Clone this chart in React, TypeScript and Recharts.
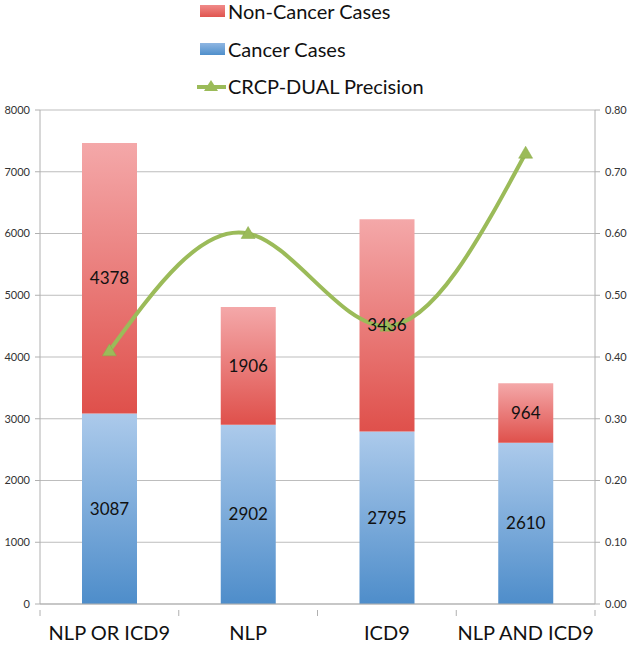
import React from "react";
import {
  ComposedChart,
  Bar,
  Line,
  XAxis,
  YAxis,
  CartesianGrid,
  LabelList,
} from "recharts";

const categories = ["NLP OR ICD9", "NLP", "ICD9", "NLP AND ICD9"];
const cancerCases = [3087, 2902, 2795, 2610];
const nonCancerCases = [4378, 1906, 3436, 964];
const precision = [0.41, 0.6, 0.45, 0.73];

const leftTicks = [0, 1000, 2000, 3000, 4000, 5000, 6000, 7000, 8000];
const rightTicks = [0, 0.1, 0.2, 0.3, 0.4, 0.5, 0.6, 0.7, 0.8];

const data = categories.map((name, i) => ({
  name,
  cancer: cancerCases[i],
  nonCancer: nonCancerCases[i],
  precision: precision[i],
}));

const FONT = "Lato, 'Open Sans', sans-serif";
const GREEN = "#9bbb59";
const CHART_W = 633;
const LEFT_W = 40;
const RIGHT_W = 38;
const BAND = (CHART_W - LEFT_W - RIGHT_W) / categories.length;

const Triangle = (props: any) => {
  const { cx, cy } = props;
  if (cx == null || cy == null) return null;
  return (
    <path
      d={`M${cx},${cy - 7} L${cx + 7},${cy + 5} L${cx - 7},${cy + 5} Z`}
      fill={GREEN}
      stroke="#8aaa4a"
      strokeWidth={0.5}
    />
  );
};

// category label plus the small boundary tick marks Excel draws
const CategoryTick = (props: any) => {
  const { x, y, payload, index } = props;
  const axisY = y - 16;
  return (
    <g>
      <line x1={x - BAND / 2} y1={axisY} x2={x - BAND / 2} y2={axisY + 6} stroke="#b0b0b0" />
      {index === categories.length - 1 && (
        <line x1={x + BAND / 2} y1={axisY} x2={x + BAND / 2} y2={axisY + 6} stroke="#b0b0b0" />
      )}
      <text
        x={x}
        y={y}
        dy="0.71em"
        textAnchor="middle"
        fontFamily={FONT}
        fontSize={20}
        fill="#111"
      >
        {payload.value}
      </text>
    </g>
  );
};

const LegendBox = () => {
  const rowStyle: React.CSSProperties = {
    position: "absolute",
    left: 197,
    display: "flex",
    alignItems: "center",
    fontFamily: FONT,
    fontSize: 20,
    color: "#111",
    whiteSpace: "nowrap",
  };
  return (
    <>
      <div style={{ ...rowStyle, top: -1 }}>
        <div
          style={{
            width: 25,
            height: 12,
            marginLeft: 3,
            marginRight: 3,
            background: "linear-gradient(#f08a89, #e0544f)",
          }}
        />
        <span>Non-Cancer Cases</span>
      </div>
      <div style={{ ...rowStyle, top: 37 }}>
        <div
          style={{
            width: 25,
            height: 12,
            marginLeft: 3,
            marginRight: 3,
            background: "linear-gradient(#8fb6e2, #4f8fcb)",
          }}
        />
        <span>Cancer Cases</span>
      </div>
      <div style={{ ...rowStyle, top: 74 }}>
        <svg width={31} height={16}>
          <line x1={0} y1={9} x2={29} y2={9} stroke={GREEN} strokeWidth={4} />
          <path d="M14,2 L21,13 L7,13 Z" fill={GREEN} />
        </svg>
        <span>CRCP-DUAL Precision</span>
      </div>
    </>
  );
};

export default function App() {
  return (
    <div style={{ position: "absolute", left: 0, top: 0, width: CHART_W, height: 645 }}>
      <LegendBox />
      <ComposedChart
        width={CHART_W}
        height={645}
        data={data}
        margin={{ top: 110, right: 0, bottom: 0, left: 0 }}
      >
        <defs>
          <linearGradient id="redGrad" x1="0" y1="0" x2="0" y2="1">
            <stop offset="0%" stopColor="#f4a8a9" />
            <stop offset="100%" stopColor="#df504b" />
          </linearGradient>
          <linearGradient id="blueGrad" x1="0" y1="0" x2="0" y2="1">
            <stop offset="0%" stopColor="#accaeb" />
            <stop offset="100%" stopColor="#4e8dca" />
          </linearGradient>
        </defs>
        <CartesianGrid vertical={false} stroke="#bdbdbd" yAxisId="left" />
        <XAxis
          dataKey="name"
          height={41}
          tickLine={false}
          axisLine={{ stroke: "#b0b0b0" }}
          tickMargin={16}
          interval={0}
          tick={<CategoryTick />}
        />
        <YAxis
          yAxisId="left"
          orientation="left"
          width={LEFT_W}
          domain={[0, 8000]}
          ticks={leftTicks}
          interval={0}
          tickSize={5}
          tickMargin={5}
          axisLine={{ stroke: "#b0b0b0" }}
          tickLine={{ stroke: "#b0b0b0" }}
          tick={{ fontFamily: FONT, fontSize: 11, fill: "#333" }}
        />
        <YAxis
          yAxisId="right"
          orientation="right"
          width={RIGHT_W}
          domain={[0, 0.8]}
          ticks={rightTicks}
          interval={0}
          tickSize={5}
          tickMargin={5}
          tickFormatter={(v: number) => v.toFixed(2)}
          axisLine={{ stroke: "#b0b0b0" }}
          tickLine={{ stroke: "#b0b0b0" }}
          tick={{ fontFamily: FONT, fontSize: 11, fill: "#333" }}
        />
        <Bar
          yAxisId="left"
          dataKey="cancer"
          stackId="a"
          barSize={55}
          fill="url(#blueGrad)"
          isAnimationActive={false}
        >
          <LabelList
            dataKey="cancer"
            position="center"
            style={{ fontFamily: FONT, fontSize: 17, fill: "#111" }}
          />
        </Bar>
        <Bar
          yAxisId="left"
          dataKey="nonCancer"
          stackId="a"
          barSize={55}
          fill="url(#redGrad)"
          isAnimationActive={false}
        >
          <LabelList
            dataKey="nonCancer"
            position="center"
            style={{ fontFamily: FONT, fontSize: 17, fill: "#111" }}
          />
        </Bar>
        <Line
          yAxisId="right"
          dataKey="precision"
          type="natural"
          stroke={GREEN}
          strokeWidth={4}
          dot={<Triangle />}
          activeDot={false}
          isAnimationActive={false}
        />
      </ComposedChart>
    </div>
  );
}
